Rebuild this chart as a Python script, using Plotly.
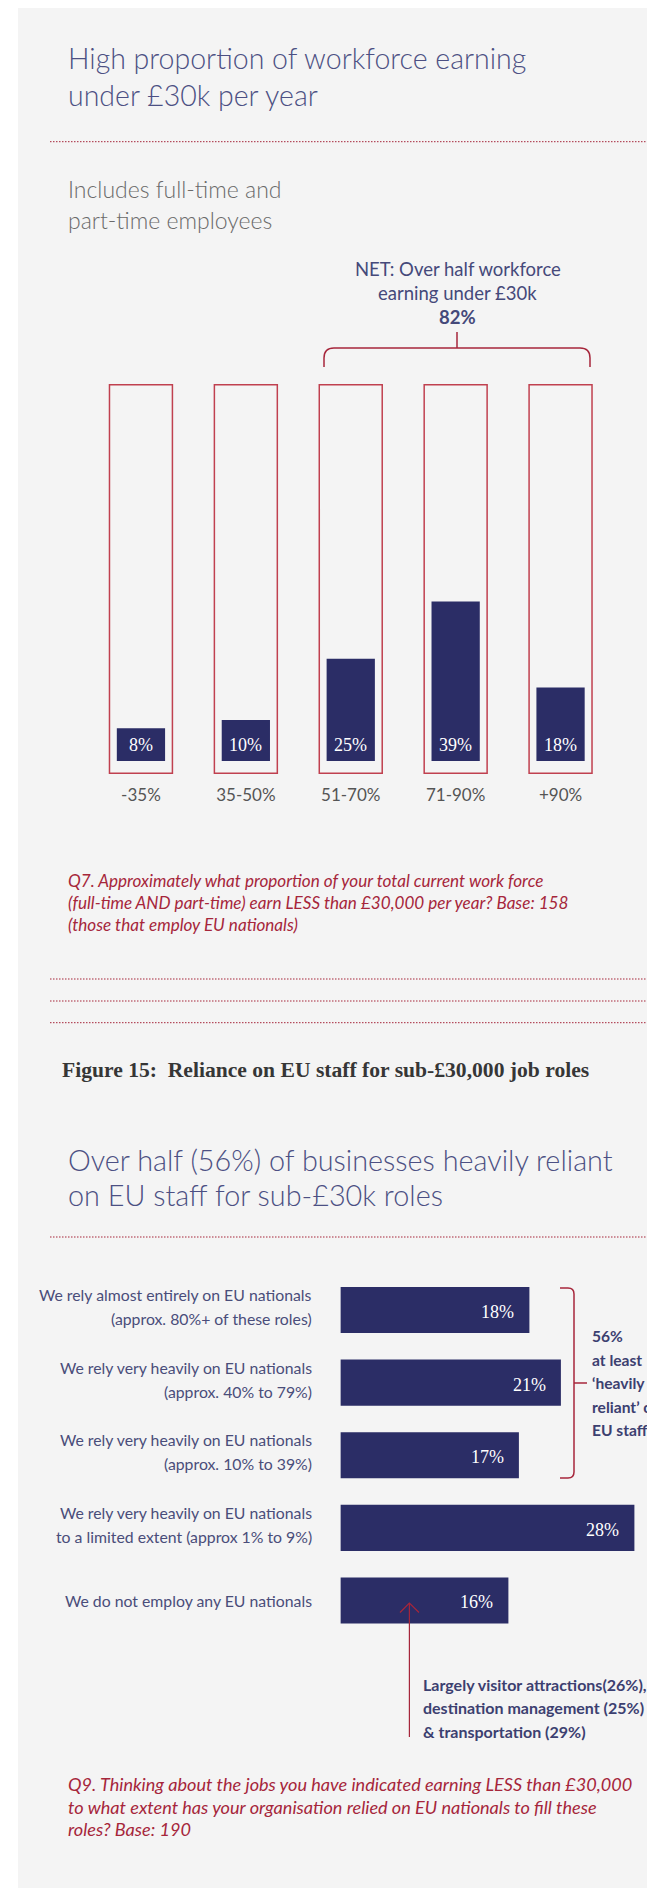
import plotly.graph_objects as go

# page size, and the offset the page body adds around the figure
W, H = 655, 1888
OFF = 8
FW, FH = W - OFF, H - OFF

# Figure 14: share of workforce earning under £30k
band_labels = ["-35%", "35-50%", "51-70%", "71-90%", "+90%"]
band_values = [8, 10, 25, 39, 18]

# Figure 15: reliance on EU staff for sub-£30k roles
reliance_labels = [
    "We rely almost entirely on EU nationals<br>(approx. 80%+ of these roles)",
    "We rely very heavily on EU nationals<br>(approx. 40% to 79%)",
    "We rely very heavily on EU nationals<br>(approx. 10% to 39%)",
    "We rely very heavily on EU nationals<br>to a limited extent (approx 1% to 9%)",
    "We do not employ any EU nationals",
]
reliance_values = [18, 21, 17, 28, 16]

SANS = "Lato, 'Open Sans', sans-serif"
SERIF = "'Liberation Serif', 'DejaVu Serif', serif"
NAVY = "#2b2d66"
RED = "#a6263b"
FRAME_RED = "#c0404f"
TITLE = "#4c5083"
LABEL = "#4a4d7a"
BG = "#f4f4f4"

V_RANGE = [-3.4, 92.4]
FRAME = (-3, 92)


def px(x):
    return (x - OFF) / FW


def py(y):
    return 1 - (y - OFF) / FH


def path(points):
    out = []
    for cmd, *xy in points:
        coords = " ".join(f"{px(xy[i]):.5f},{py(xy[i + 1]):.5f}" for i in range(0, len(xy), 2))
        out.append(f"{cmd} {coords}")
    return " ".join(out)


def add_lines(fig, lines, x, baselines, size, color, anchor="left", weight=400,
              style="normal", family=SANS):
    for text, base in zip(lines, baselines):
        fig.add_annotation(
            x=px(x), y=py(base - 0.36 * size), xref="paper", yref="paper",
            xanchor=anchor, yanchor="middle", text=text, showarrow=False,
            font=dict(family=family, size=size, color=color, weight=weight, style=style),
        )


fig = go.Figure()

# frames behind the vertical bars
fig.add_trace(go.Bar(
    x=band_labels, y=[FRAME[1] - FRAME[0]] * len(band_labels), base=FRAME[0],
    width=0.6, marker=dict(color="rgba(0,0,0,0)", line=dict(color=FRAME_RED, width=1.5)),
    hoverinfo="skip", xaxis="x", yaxis="y",
))
fig.add_trace(go.Bar(
    x=band_labels, y=band_values, width=0.46, marker=dict(color=NAVY, line=dict(width=0)),
    xaxis="x", yaxis="y",
))
fig.add_trace(go.Bar(
    y=reliance_labels, x=reliance_values, orientation="h", width=0.634,
    marker=dict(color=NAVY, line=dict(width=0)), xaxis="x2", yaxis="y2",
))

for lab, val in zip(band_labels, band_values):
    fig.add_annotation(
        x=lab, y=0, xref="x", yref="y", yanchor="bottom", yshift=4, text=f"{val}%",
        showarrow=False, font=dict(family=SERIF, size=18, color="white"),
    )

for lab, val in zip(reliance_labels, reliance_values):
    fig.add_annotation(
        x=val, y=lab, xref="x2", yref="y2", xanchor="right", xshift=-13, yshift=-2,
        text=f"{val}%", showarrow=False, font=dict(family=SERIF, size=18, color="white"),
    )
    parts = lab.split("<br>")
    n = len(parts)
    for j, part in enumerate(parts):
        offset = (j - (n - 1) / 2) * 24 - (3.5 if n > 1 else 0)
        fig.add_annotation(
            x=px(314), y=lab, xref="paper", yref="y2", xanchor="right", yanchor="middle",
            yshift=-offset, text=part, showarrow=False,
            font=dict(family=SANS, size=15.8, color=LABEL),
        )

# text blocks
add_lines(fig, ["High proportion of workforce earning", "under £30k per year"],
          66, [68, 105], 28.5, TITLE, weight=300)
add_lines(fig, ["Includes full-time and", "part-time employees"],
          66, [197, 228], 23, "#6a6a6a", weight=300)
add_lines(fig, ["NET: Over half workforce", "earning under £30k", "<b>82%</b>"],
          457.6, [276, 300, 324], 18.5, "#45497a", anchor="center")
add_lines(fig, [
    "Q7. Approximately what proportion of your total current work force",
    "(full-time AND part-time) earn LESS than £30,000 per year? Base: 158",
    "(those that employ EU nationals)",
], 66, [887, 908.5, 931], 17.1, RED, style="italic")
add_lines(fig, ["Figure 15:\u00a0 Reliance on EU staff for sub-£30,000 job roles"],
          60, [1078], 21.6, "#363636", weight=700, family=SERIF)
add_lines(fig, ["Over half (56%) of businesses heavily reliant", "on EU staff for sub-£30k roles"],
          66, [1170, 1205], 28.8, TITLE, weight=300)
add_lines(fig, ["56%", "at least", "‘heavily", "reliant’ on", "EU staff"],
          590, [1342, 1365.5, 1389, 1412.5, 1436], 15.6, "#3c4070", weight=700)
add_lines(fig, ["Largely visitor attractions(26%),", "destination management (25%)",
                "& transportation (29%)"],
          421, [1690, 1713, 1737], 16, "#3c4070", weight=700)
add_lines(fig, [
    "Q9. Thinking about the jobs you have indicated earning LESS than £30,000",
    "to what extent has your organisation relied on EU nationals to fill these",
    "roles? Base: 190",
], 66, [1791, 1813.5, 1836], 18.1, RED, style="italic")

shapes = [
    dict(type="rect", xref="paper", yref="paper", x0=px(18), x1=1, y0=0, y1=py(8),
         fillcolor=BG, line=dict(width=0), layer="below"),
]
for y in [141.7, 979, 1001, 1022.7, 1237]:
    shapes.append(dict(type="line", xref="paper", yref="paper", x0=px(50), x1=1,
                       y0=py(y), y1=py(y), line=dict(color=RED, width=1, dash="1.5px,1.5px")))
bracket = dict(type="path", xref="paper", yref="paper", line=dict(color=RED, width=1.5))
shapes.append(dict(bracket, path=path([
    ("M", 324, 367), ("L", 324, 358), ("Q", 324, 348, 334, 348), ("L", 580, 348),
    ("Q", 590, 348, 590, 358), ("L", 590, 367),
])))
shapes.append(dict(bracket, path=path([("M", 457, 348), ("L", 457, 332)])))
shapes.append(dict(bracket, path=path([
    ("M", 560, 1288), ("L", 568, 1288), ("Q", 574, 1288, 574, 1294), ("L", 574, 1472),
    ("Q", 574, 1478, 568, 1478), ("L", 560, 1478),
])))
shapes.append(dict(bracket, path=path([("M", 574, 1383), ("L", 587, 1383)])))
shapes.append(dict(bracket, line=dict(color=RED, width=1.2),
                   path=path([("M", 409.4, 1737), ("L", 409.4, 1603)])))
shapes.append(dict(bracket, line=dict(color=RED, width=1.2),
                   path=path([("M", 400, 1612.5), ("L", 409.4, 1603), ("L", 419, 1612.5)])))

fig.update_layout(
    width=FW,
    height=FH,
    margin=dict(l=0, r=0, t=0, b=0),
    paper_bgcolor="white",
    plot_bgcolor="rgba(0,0,0,0)",
    barmode="overlay",
    showlegend=False,
    shapes=shapes,
    font=dict(family=SANS),
    xaxis=dict(
        domain=[px(88.5), px(613)], type="category", range=[-0.5, 4.5],
        showgrid=False, zeroline=False, showline=False, ticks="",
        ticklabelstandoff=8, tickfont=dict(family=SANS, size=17, color="#555555"),
        anchor="y", fixedrange=True,
    ),
    yaxis=dict(
        domain=[py(761 - V_RANGE[0] * 4.09), py(761 - V_RANGE[1] * 4.09)],
        range=V_RANGE, visible=False, anchor="x", fixedrange=True,
    ),
    xaxis2=dict(
        domain=[px(340.4), 1], range=[0, (W - 340.4) / 10.5], visible=False,
        anchor="y2", fixedrange=True,
    ),
    yaxis2=dict(
        domain=[py(1636.8), py(1273.7)], type="category", range=[4.5, -0.5],
        showticklabels=False, showgrid=False, zeroline=False, showline=False,
        ticks="", anchor="x2", fixedrange=True,
    ),
)

fig.write_html("out.html")
